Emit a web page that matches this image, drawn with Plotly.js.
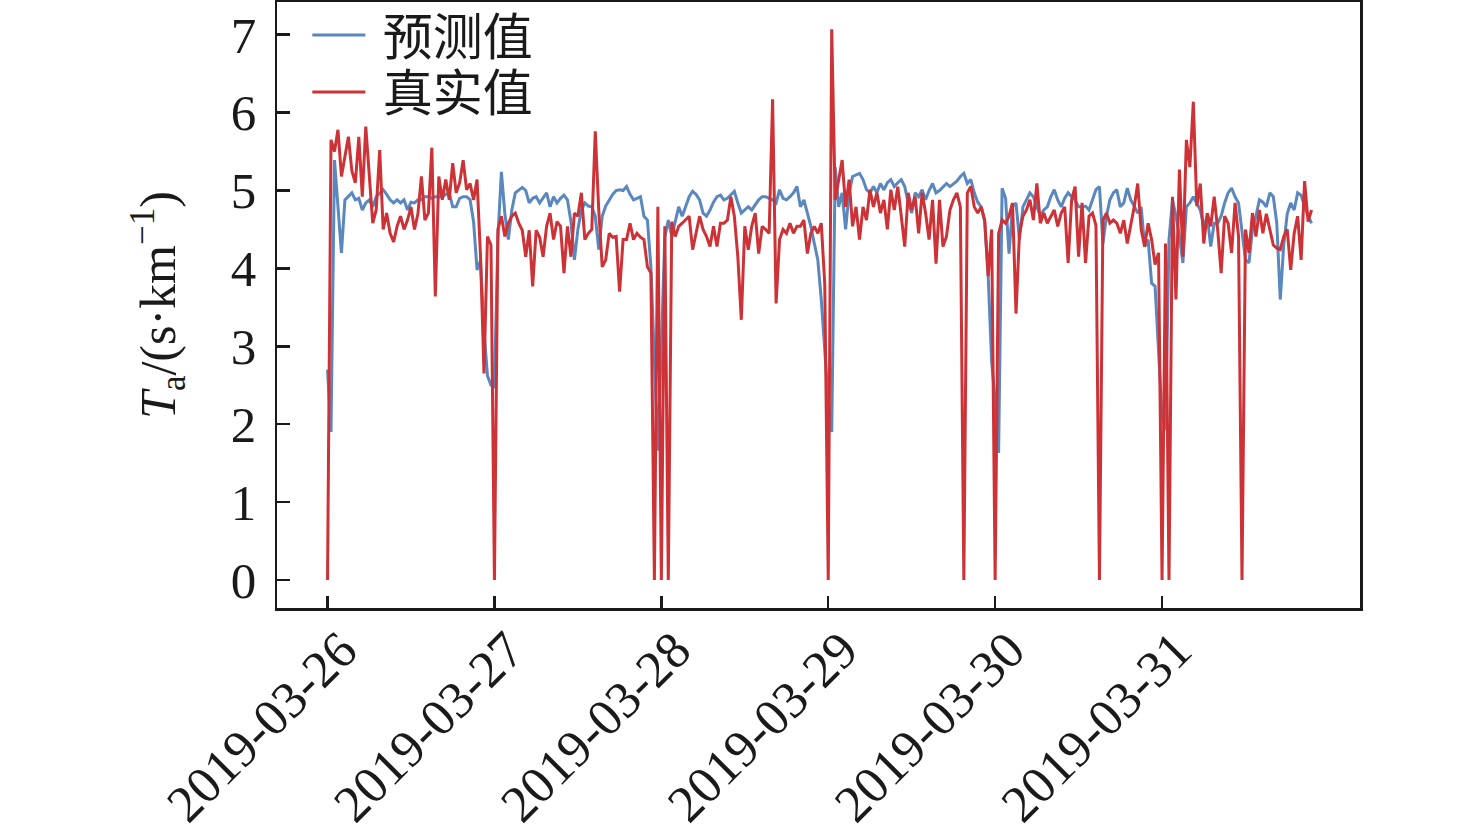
<!DOCTYPE html>
<html>
<head>
<meta charset="utf-8">
<script src="https://cdn.plot.ly/plotly-3.0.1.min.js"></script>
<style>html,body{margin:0;padding:0;background:#fff;}#chart{width:1476px;height:835px;}</style>
</head>
<body>
<div id="chart"></div>
<script>
// Time grid: half-hour samples starting 2019-03-26 00:00
const startDate = [2019, 2, 26];
const stepMinutes = 30;

const dateTicks = ['2019-03-26', '2019-03-27', '2019-03-28', '2019-03-29', '2019-03-30', '2019-03-31'];
const yTicks = [0, 1, 2, 3, 4, 5, 6, 7];

// 预测值 (predicted)
const predicted = [
  2.7, 1.9, 5.39, 4.8, 4.2, 4.88, 4.92, 4.97, 4.88, 4.9, 4.75, 4.84,
  4.88, 4.79, 4.92, 4.97, 5.01, 4.95, 4.88, 4.84, 4.88, 4.84, 4.88, 4.75,
  4.85, 4.84, 4.88, 4.88, 4.92, 4.92, 4.9, 4.92, 4.92, 4.92, 4.95, 4.97,
  4.79, 4.79, 4.9, 4.92, 4.92, 4.88, 4.6, 3.98, 4.1, 3.2, 2.62, 2.5,
  2.48, 4.4, 5.24, 4.7, 4.37, 4.75, 4.97, 5.0, 5.04, 5.0, 4.84, 4.9,
  4.92, 4.84, 4.9, 4.97, 4.79, 4.92, 4.84, 4.9, 4.94, 4.88, 4.6, 4.11,
  4.5, 4.75, 4.84, 4.8, 4.79, 4.67, 4.24, 4.67, 4.8, 4.88, 4.95, 5.0,
  5.01, 5.0, 5.05, 4.95, 4.88, 4.9, 4.92, 4.67, 4.62, 4.02, 2.8, 1.66,
  3.0, 4.4, 4.62, 4.41, 4.6, 4.79, 4.67, 4.79, 4.92, 4.99, 4.95, 4.88,
  4.71, 4.67, 4.75, 4.85, 4.92, 4.94, 4.88, 4.9, 4.95, 4.99, 4.84, 4.71,
  4.75, 4.79, 4.75, 4.82, 4.88, 4.92, 4.92, 4.9, 4.88, 4.84, 5.01, 4.9,
  4.88, 4.92, 4.97, 5.05, 4.79, 4.88, 4.71, 4.54, 4.32, 4.11, 3.6, 2.9,
  2.3, 1.9, 5.3, 4.79, 4.97, 4.5, 4.97, 5.18, 5.2, 5.22, 5.14, 5.01,
  4.97, 5.05, 4.97, 5.09, 5.01, 5.1, 5.14, 5.05, 5.1, 5.14, 5.05, 4.84,
  4.71, 4.97, 4.92, 5.01, 4.88, 5.0, 5.09, 4.97, 5.0, 5.05, 5.09, 5.05,
  5.09, 5.12, 5.18, 5.22, 5.09, 5.14, 4.97, 4.85, 4.79, 4.6, 3.9, 2.8,
  2.3, 1.63, 5.03, 4.9, 4.19, 4.79, 4.84, 4.37, 4.79, 4.88, 4.97, 4.92,
  4.79, 4.67, 4.75, 4.79, 4.92, 5.01, 4.88, 4.79, 4.9, 4.97, 4.92, 4.88,
  4.79, 4.79, 4.8, 4.75, 4.88, 5.01, 5.05, 4.32, 4.67, 4.88, 4.97, 5.01,
  4.79, 4.84, 5.03, 4.88, 4.8, 4.71, 4.79, 4.28, 4.37, 3.81, 3.77, 2.96,
  2.1, 1.93, 4.37, 4.88, 4.67, 4.41, 4.07, 4.79, 4.84, 4.92, 4.84, 4.75,
  4.54, 4.67, 4.28, 4.58, 4.58, 4.67, 4.84, 4.97, 5.03, 4.92, 4.84, 4.5,
  4.11, 4.07, 4.5, 4.67, 4.88, 4.85, 4.79, 4.97, 4.92, 4.58, 3.6, 4.3,
  4.7, 4.84, 4.75, 4.97, 4.94, 4.8, 4.67, 4.58
];

// 真实值 (actual)
const actual = [
  0, 5.65, 5.5, 5.78, 5.18, 5.43, 5.69, 5.25, 5.1, 5.69, 4.92, 5.82,
  5.18, 4.58, 4.75, 5.52, 4.5, 4.71, 4.45, 4.34, 4.54, 4.67, 4.5, 4.62,
  4.79, 4.5, 4.7, 5.18, 4.62, 4.71, 5.55, 3.64, 5.18, 4.88, 5.14, 4.88,
  5.35, 4.97, 5.1, 5.39, 5.01, 5.09, 4.88, 5.14, 4.15, 2.65, 4.41, 4.3,
  0, 4.5, 4.67, 4.41, 4.58, 4.67, 4.71, 4.58, 4.49, 4.15, 4.49, 3.77,
  4.49, 4.4, 4.15, 4.54, 4.71, 4.37, 4.6, 4.54, 3.94, 4.54, 4.15, 4.71,
  4.67, 4.97, 4.37, 4.45, 4.5, 5.76, 4.75, 4.02, 4.11, 4.45, 4.4, 4.41,
  3.7, 4.37, 4.37, 4.58, 4.37, 4.45, 4.4, 4.37, 4.02, 3.94, 0, 4.79,
  0, 4.54, 0, 4.6, 4.41, 4.54, 4.58, 4.62, 4.67, 4.24, 4.45, 4.67,
  4.5, 4.41, 4.28, 4.54, 4.28, 4.58, 4.58, 4.62, 4.92, 4.67, 4.15, 3.34,
  4.54, 4.24, 4.54, 4.71, 4.19, 4.54, 4.5, 4.45, 6.17, 3.55, 4.37, 4.5,
  4.45, 4.58, 4.45, 4.54, 4.54, 4.62, 4.19, 4.45, 4.54, 4.45, 4.58, 3.8,
  0, 7.07, 4.88, 5.14, 5.39, 4.79, 5.14, 4.54, 4.79, 4.37, 4.79, 4.62,
  5.01, 4.79, 4.97, 4.71, 4.88, 4.5, 5.01, 4.75, 5.05, 4.67, 4.28, 4.97,
  4.75, 4.92, 4.45, 4.97, 4.71, 4.37, 4.88, 4.06, 4.88, 4.28, 4.41, 4.75,
  4.88, 4.97, 4.79, 0, 4.97, 5.05, 4.79, 4.71, 4.79, 4.62, 3.9, 4.5,
  0, 4.45, 4.62, 4.58, 4.67, 4.84, 3.42, 4.45, 4.67, 4.75, 4.88, 4.62,
  5.09, 4.58, 4.71, 4.58, 4.67, 4.75, 4.54, 4.71, 4.79, 4.07, 4.88, 5.05,
  4.15, 4.84, 4.07, 4.67, 4.71, 4.55, 0, 4.62, 4.71, 4.58, 4.62, 4.58,
  4.45, 4.62, 4.32, 4.54, 4.79, 5.09, 4.5, 4.28, 4.58, 4.37, 4.05, 4.2,
  0, 4.32, 0, 4.92, 3.6, 5.27, 4.15, 5.65, 5.3, 6.14, 4.8, 5.09,
  4.32, 4.71, 4.54, 4.92, 4.5, 3.94, 4.67, 4.58, 4.2, 4.84, 4.41, 0,
  4.5, 4.2, 4.71, 4.41, 4.75, 4.45, 4.7, 4.5, 4.3, 4.26, 4.24, 4.41,
  4.5, 3.98, 4.45, 4.67, 4.11, 5.12, 4.6, 4.75
];

function timeAt(i) {
  const ms = Date.UTC(startDate[0], startDate[1], startDate[2]) + i * stepMinutes * 60000;
  return new Date(ms).toISOString().slice(0, 16).replace('T', ' ');
}
const timesPred = predicted.map((_, i) => timeAt(i));
const timesAct = actual.map((_, i) => timeAt(i));

const ink = '#1a1a1a';
const serif = '"Liberation Serif", "Times New Roman", "Noto Sans CJK SC", serif';
const NB = '\u00a0';

const traces = [
  {x: timesPred, y: predicted, type: 'scatter', mode: 'lines', name: NB + '预测值',
   legend: 'legend', line: {color: '#5b87bf', width: 3}},
  {x: timesAct, y: actual, type: 'scatter', mode: 'lines', name: NB + '真实值',
   legend: 'legend2', line: {color: '#cd3237', width: 3}}
];

const legendBase = {x: 0.028, xanchor: 'left', yanchor: 'middle', bgcolor: 'rgba(0,0,0,0)',
                    font: {family: serif, size: 50, color: ink}, itemwidth: 53};

const layout = {
  width: 1476, height: 835,
  margin: {l: 277, r: 116, t: 2, b: 227, autoexpand: false},
  paper_bgcolor: '#ffffff', plot_bgcolor: '#ffffff',
  font: {family: serif, size: 51, color: ink},
  showlegend: true,
  legend: Object.assign({}, legendBase, {y: 0.9455}),
  legend2: Object.assign({}, legendBase, {y: 0.8515}),
  xaxis: {
    type: 'date', range: ['2019-03-25 16:44', '2019-04-01 04:28'],
    tickmode: 'array', tickvals: dateTicks, ticktext: dateTicks, tickangle: -45,
    ticks: 'inside', ticklen: 12, tickwidth: 2.5, tickcolor: ink,
    showline: true, linewidth: 2.5, linecolor: ink, mirror: true,
    showgrid: false, zeroline: false,
    ticklabelshift: 14, ticklabelstandoff: -12,
    tickfont: {family: serif, size: 52, color: ink}
  },
  yaxis: {
    range: [-0.36, 7.42], tickmode: 'array', tickvals: yTicks,
    ticks: 'inside', ticklen: 13, tickwidth: 2.5, tickcolor: ink,
    showline: true, linewidth: 2.5, linecolor: ink, mirror: true,
    showgrid: false, zeroline: false, ticklabelstandoff: 8,
    tickfont: {family: serif, size: 51, color: ink},
    title: {text: '<i>T</i><sub>a</sub>/(s·km<sup>−1</sup>)', font: {family: serif, size: 50, color: ink}, standoff: 40}
  }
};

Plotly.newPlot('chart', traces, layout, {displayModeBar: false, staticPlot: true});
</script>
</body>
</html>
